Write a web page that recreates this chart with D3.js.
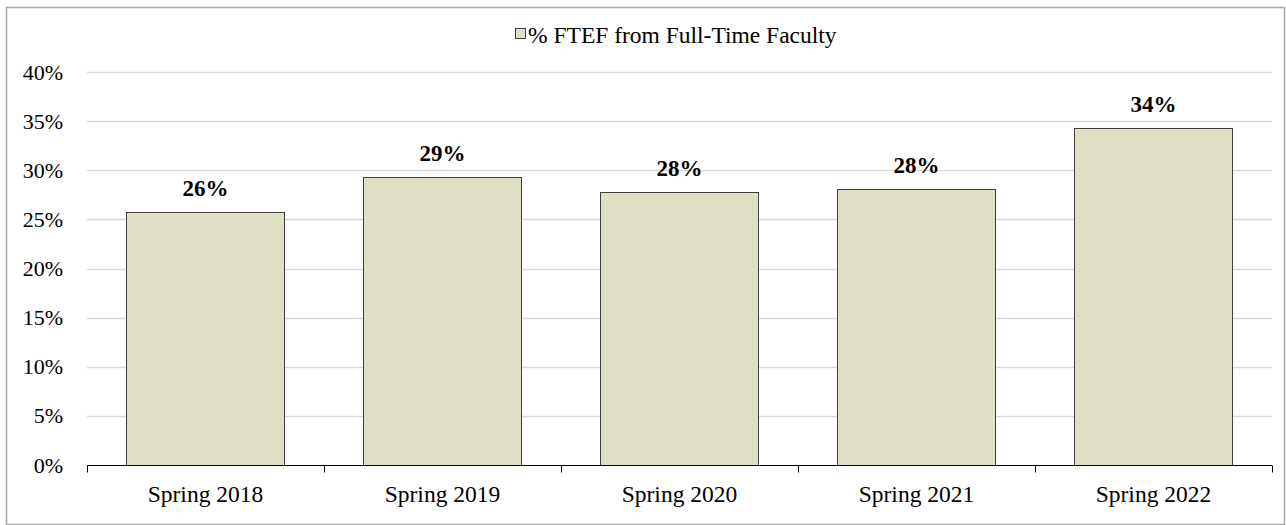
<!DOCTYPE html>
<html>
<head>
<meta charset="utf-8">
<script src="https://cdn.jsdelivr.net/npm/d3@7"></script>
<style>
  html, body { margin: 0; padding: 0; background: #fff; }
  svg { display: block; font-family: "Liberation Serif", "Times New Roman", serif; }
</style>
</head>
<body>
<div id="chart"></div>
<script>
// chart data
const categories = ['Spring 2018', 'Spring 2019', 'Spring 2020', 'Spring 2021', 'Spring 2022'];
const fullTimeShare = [0.2575, 0.2928, 0.2776, 0.2810, 0.3427];
const valueLabels = ['26%', '29%', '28%', '28%', '34%'];
const yTicks = [0, 0.05, 0.10, 0.15, 0.20, 0.25, 0.30, 0.35, 0.40];
const seriesName = '% FTEF from Full-Time Faculty';

const width = 1286, height = 525;
const plot = { left: 87, right: 1272, top: 72, bottom: 465 };

const svg = d3.select('#chart').append('svg')
    .attr('width', width)
    .attr('height', height);

// outer frame
svg.append('rect')
    .attr('x', 6.5).attr('y', 7.5)
    .attr('width', 1278).attr('height', 517)
    .attr('fill', '#fff')
    .attr('stroke', '#a6a6a6')
    .attr('stroke-width', 1.5);

const y = d3.scaleLinear().domain([0, 0.4]).range([plot.bottom, plot.top]);
const x = d3.scaleBand().domain(categories).range([plot.left, plot.right])
    .paddingInner(0.333).paddingOuter(0.1665);
const xCell = d3.scaleBand().domain(categories).range([plot.left, plot.right]).padding(0);

// gridlines
svg.append('g')
    .selectAll('line')
    .data(yTicks.slice(1))
    .join('line')
    .attr('x1', plot.left).attr('x2', plot.right)
    .attr('y1', d => Math.round(y(d)) + 0.5).attr('y2', d => Math.round(y(d)) + 0.5)
    .attr('stroke', '#d9d9d9')
    .attr('stroke-width', 1.5);

// y tick labels
const yAxis = svg.append('g')
    .attr('transform', `translate(${plot.left},0)`)
    .call(d3.axisLeft(y).tickValues(yTicks).tickFormat(d3.format('.0%')).tickSize(0).tickPadding(24));
yAxis.select('.domain').remove();
yAxis.selectAll('text')
    .attr('fill', '#000')
    .style('font-size', '22px')
    .style('font-family', '"Liberation Serif", "Times New Roman", serif');

// bars
const data = categories.map((c, i) => ({ cat: c, value: fullTimeShare[i], label: valueLabels[i] }));
svg.append('g')
    .selectAll('rect')
    .data(data)
    .join('rect')
    .attr('x', d => Math.round(x(d.cat)) + 0.5)
    .attr('y', d => Math.round(y(d.value)) + 0.5)
    .attr('width', Math.round(x.bandwidth()))
    .attr('height', d => plot.bottom - Math.round(y(d.value)))
    .attr('fill', '#dfdfc6')
    .attr('stroke', '#3f3f3f')
    .attr('stroke-width', 1);

// value labels
svg.append('g')
    .selectAll('text')
    .data(data)
    .join('text')
    .attr('x', d => x(d.cat) + x.bandwidth() / 2)
    .attr('y', d => y(d.value) - 16)
    .attr('text-anchor', 'middle')
    .attr('font-weight', 'bold')
    .style('font-size', '23px')
    .text(d => d.label);

// x axis
const xAxis = svg.append('g')
    .attr('transform', `translate(0,${plot.bottom + 0.5})`)
    .call(d3.axisBottom(x).tickSize(0).tickPadding(20).tickSizeOuter(0));
xAxis.select('.domain').attr('stroke', '#000').attr('d', `M${plot.left},0H${plot.right}`);
xAxis.selectAll('text')
    .attr('fill', '#000')
    .style('font-size', '23.5px')
    .style('font-family', '"Liberation Serif", "Times New Roman", serif');

// boundary tick marks
const boundaries = categories.map(c => xCell(c)).concat([plot.right]);
xAxis.append('g')
    .selectAll('line')
    .data(boundaries)
    .join('line')
    .attr('x1', d => Math.round(d) + 0.5).attr('x2', d => Math.round(d) + 0.5)
    .attr('y1', 0).attr('y2', 7)
    .attr('stroke', '#000');

// legend
const legend = svg.append('g').attr('transform', 'translate(515,28)');
legend.append('rect')
    .attr('x', 0.5).attr('y', 0.5)
    .attr('width', 10).attr('height', 10)
    .attr('fill', '#dfdfc6')
    .attr('stroke', '#3f3f3f');
legend.append('text')
    .attr('x', 13).attr('y', 15)
    .style('font-size', '23.5px')
    .text(seriesName);
</script>
</body>
</html>
